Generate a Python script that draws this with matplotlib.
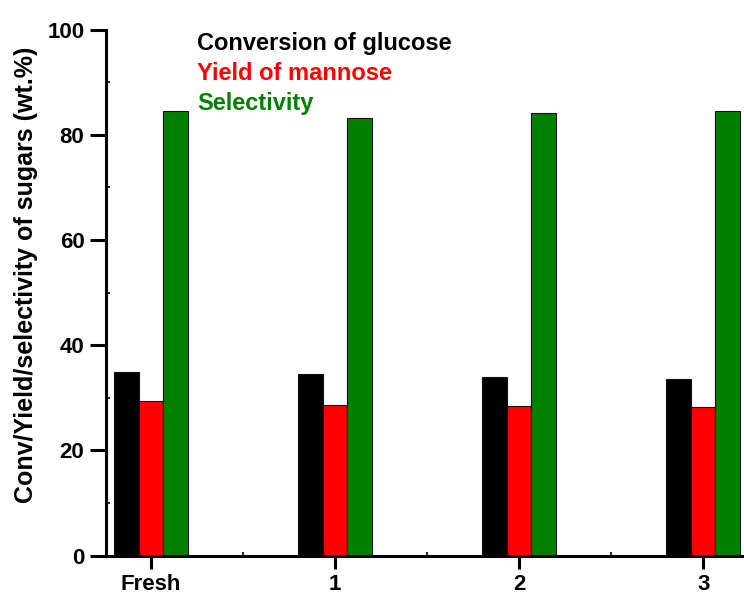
import matplotlib
matplotlib.use("Agg")
import matplotlib.pyplot as plt
import numpy as np
from matplotlib.ticker import MultipleLocator, FixedLocator

plt.rcParams['font.family'] = ['Liberation Sans', 'DejaVu Sans']
plt.rcParams['font.weight'] = 'bold'

categories = ["Fresh", "1", "2", "3"]
conversion = [34.8, 34.5, 33.9, 33.6]
yield_mannose = [29.3, 28.6, 28.4, 28.3]
selectivity = [84.5, 83.2, 84.1, 84.6]

series_names = ["Conversion of glucose", "Yield of mannose", "Selectivity"]
series_colors = ["#000000", "#ff0000", "#008000"]

fig = plt.figure(figsize=(7.44, 5.97), dpi=100)
ax = fig.add_axes([0.1425, 0.0695, 0.8575, 0.881])

x = np.arange(len(categories))
w = 0.134
for i, (vals, name, col) in enumerate(zip([conversion, yield_mannose, selectivity],
                                          series_names, series_colors)):
    ax.bar(x + (i - 1) * w, vals, width=w, color=col, edgecolor='#111111',
           linewidth=0.8, label=name, zorder=2)

ax.set_xlim(-0.245, 3.222)
ax.set_ylim(0, 100)

ax.set_xticks(x)
ax.set_xticklabels(categories)
ax.xaxis.set_minor_locator(FixedLocator(x[:-1] + 0.5))
ax.yaxis.set_major_locator(MultipleLocator(20))
ax.yaxis.set_minor_locator(MultipleLocator(10))

for s in ['top', 'right']:
    ax.spines[s].set_visible(False)
for s in ['left', 'bottom']:
    ax.spines[s].set_linewidth(2.2)

ax.tick_params(axis='both', which='major', direction='out', width=2.2,
               labelsize=16)
ax.tick_params(axis='y', which='major', length=11.5, pad=4)
ax.tick_params(axis='x', which='major', length=9.5, pad=4)
ax.tick_params(axis='both', which='minor', direction='in', length=3, width=1.2)
for lbl in ax.get_xticklabels() + ax.get_yticklabels():
    lbl.set_fontweight('bold')

ax.set_ylabel("Conv/Yield/selectivity of sugars (wt.%)", fontsize=18,
              fontweight='bold')
ax.yaxis.set_label_coords(-0.107, 0.533)

# colour-coded series names in the upper-left of the plot area
for k, (name, col) in enumerate(zip(series_names, series_colors)):
    fig.text(197 / 744, 1 - (50 + 30 * k) / 597, name, color=col,
             fontsize=17, fontweight='bold', ha='left', va='baseline')

fig.savefig("out.png", dpi=100)
